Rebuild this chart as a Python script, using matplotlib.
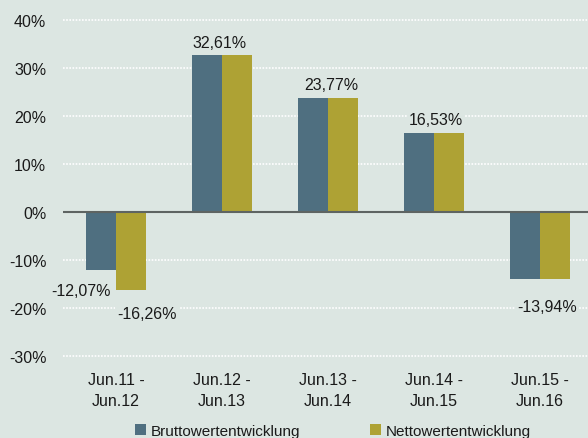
import matplotlib
matplotlib.use("Agg")
import matplotlib.pyplot as plt
import numpy as np
from matplotlib.patches import Patch

categories = ["Jun.11 -\nJun.12", "Jun.12 -\nJun.13", "Jun.13 -\nJun.14", "Jun.14 -\nJun.15", "Jun.15 -\nJun.16"]
brutto = [-12.07, 32.61, 23.77, 16.53, -13.94]
netto = [-16.26, 32.61, 23.77, 16.53, -13.94]
yticks = [-30, -20, -10, 0, 10, 20, 30, 40]
series_names = ["Bruttowertentwicklung", "Nettowertentwicklung"]

bg = "#dce6e2"
c_brutto = "#4f6f80"
c_netto = "#aea234"
txt = "#1a1a1a"
fs = 11

plt.rcParams['font.family'] = ['Liberation Sans Narrow', 'Liberation Sans', 'DejaVu Sans']

W, H = 588, 439
fig = plt.figure(figsize=(W / 100, H / 100), dpi=100, facecolor=bg)
# axes: x from 63 to 593 px, y from 21 (40%) to 357 (-30%)
ax = fig.add_axes([63 / W, 1 - 357 / H, 530 / W, (357 - 21) / H])
ax.set_facecolor(bg)
ax.patch.set_alpha(0)

x = np.arange(len(categories))
bw = 0.283
ax.bar(x - bw / 2, brutto, bw, color=c_brutto, zorder=3)
ax.bar(x + bw / 2, netto, bw, color=c_netto, zorder=3)

ax.set_xlim(-0.5, len(categories) - 0.5)
ax.set_ylim(-30, 40)
ax.set_yticks(yticks)
ax.set_yticklabels([f"{t}%" for t in yticks], fontsize=fs + 0.5, color=txt)
for t in yticks:
    if t != 0:
        ax.axhline(t, color="white", lw=1.2, ls=(0, (1, 0.9)), zorder=1, clip_on=False)
ax.axhline(0, color="#5e6462", lw=1.5, zorder=4)

ax.set_xticks(x)
ax.set_xticklabels(categories, fontsize=fs + 0.5, color=txt, linespacing=1.5)
ax.tick_params(axis="both", length=0)
ax.tick_params(axis="x", pad=11.5)
ax.tick_params(axis="y", pad=12)
for s in ax.spines.values():
    s.set_visible(False)

box = dict(facecolor=bg, edgecolor="none", pad=1.5)
def lab(xv, yv, v):
    ax.text(xv, yv, f"{v:.2f}%".replace(".", ","), ha="center", va="center",
            fontsize=fs + 0.5, color=txt, bbox=box, zorder=5)

# labels
lab(x[0] - 0.33, brutto[0] - 4.3, brutto[0])
lab(x[0] + 0.29, netto[0] - 4.8, netto[0])
lab(x[1] - 0.02, brutto[1] + 2.8, brutto[1])
lab(x[2] + 0.03, brutto[2] + 2.7, brutto[2])
lab(x[3] + 0.02, brutto[3] + 2.7, brutto[3])
lab(x[4] + 0.07, netto[4] - 5.7, netto[4])

ly = 1 - 432 / H
for i, (name, c) in enumerate(zip(series_names, [c_brutto, c_netto])):
    lx = [135, 370][i] / W
    fig.legend([Patch(facecolor=c)], [name], loc="center left", bbox_to_anchor=(lx, ly),
               frameon=False, fontsize=fs, handlelength=0.7, handleheight=0.7,
               handletextpad=0.3, borderpad=0, borderaxespad=0, labelcolor=txt)

fig.savefig("out.png", dpi=100, facecolor=bg)
